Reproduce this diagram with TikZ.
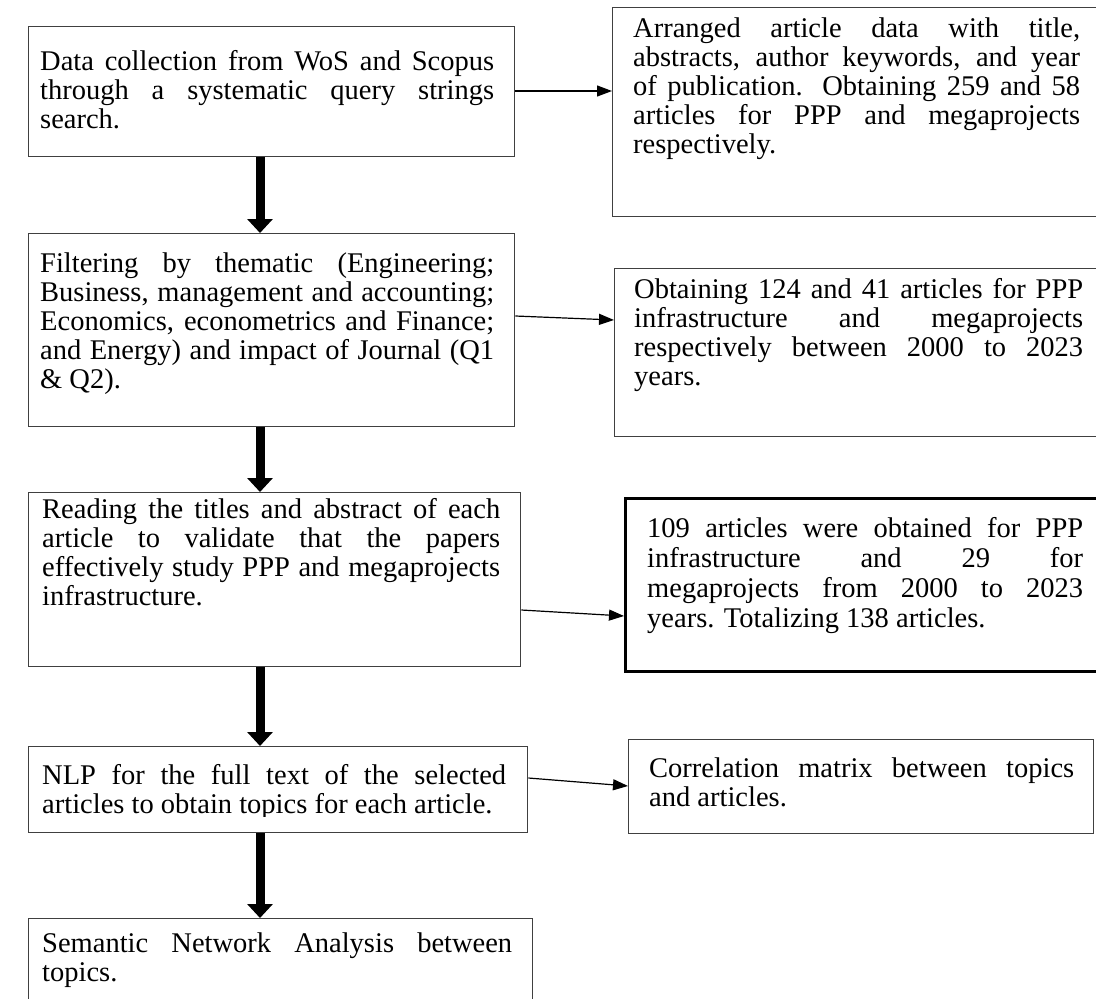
\documentclass[tikz,border=0pt]{standalone}
\usepackage{fontspec}
\setmainfont{Liberation Serif}
\usetikzlibrary{arrows.meta}
\begin{document}
\begin{tikzpicture}[x=1pt,y=-1pt,
  box/.style={draw=black!75, line width=1.3pt, anchor=north west, inner sep=0pt},
  boldbox/.style={box, draw=black, line width=2.8pt},
  txt/.style={anchor=base west, inner sep=0pt, align=justify, font=\fontsize{28.5}{29}\selectfont},
  flow/.style={line width=9pt, -{Triangle[length=14pt,width=25pt]}},
  link/.style={line width=1.2pt, -{Triangle[length=15pt,width=11pt]}}]
\useasboundingbox (0,0) rectangle (1096,999);
\fill[white] (0,0) rectangle (1096,999);
% boxes
\node[box, minimum width=486pt, minimum height=130pt] (b1) at (28,26) {};
\node[box, minimum width=490pt, minimum height=209pt] (b2) at (612,7) {};
\node[box, minimum width=486pt, minimum height=193pt] (b3) at (28,233) {};
\node[box, minimum width=490pt, minimum height=168pt] (b4) at (614,268) {};
\node[box, minimum width=492pt, minimum height=174pt] (b5) at (28,492) {};
\node[boldbox, minimum width=480pt, minimum height=173pt] (b6) at (624,497) {};
\node[box, minimum width=499pt, minimum height=86pt] (b7) at (28,746) {};
\node[box, minimum width=465pt, minimum height=94pt] (b8) at (628,739) {};
\node[box, minimum width=504pt, minimum height=100pt] (b9) at (28,918) {};
% texts
\node[txt, text width=454pt] (t1) at (40,70) {Data collection from WoS and Scopus\linebreak through a systematic query strings\linebreak search.};
\node[txt, text width=447pt] (t2) at (633,37) {Arranged article data with title,\linebreak abstracts, author keywords, and year\linebreak of publication. Obtaining 259 and 58\linebreak articles for PPP and megaprojects\linebreak respectively.};
\node[txt, text width=454pt] (t3) at (40,272) {Filtering by thematic (Engineering;\linebreak Business, management and accounting;\linebreak Economics, econometrics and Finance;\linebreak and Energy) and impact of Journal (Q1\linebreak \& Q2).};
\node[txt, text width=449pt] (t4) at (634,298) {Obtaining 124 and 41 articles for PPP\linebreak infrastructure and megaprojects\linebreak respectively between 2000 to 2023\linebreak years.};
\node[txt, text width=458pt] (t5) at (42,518) {Reading the titles and abstract of each\linebreak article to validate that the papers\linebreak effectively study PPP and megaprojects\linebreak infrastructure.};
\node[txt, text width=436pt, font=\fontsize{28.5}{30}\selectfont] (t6) at (647,537) {109 articles were obtained for PPP\linebreak infrastructure and 29 for\linebreak megaprojects from 2000 to 2023\linebreak years. Totalizing 138 articles.};
\begin{scope}
\clip (0,740) rectangle (600,816);
\node[txt, text width=464pt] (t7) at (42,784) {NLP for the full text of the selected\linebreak articles to obtain topics for each article.};
\end{scope}
\node[txt, text width=425pt] (t8) at (649,777) {Correlation matrix between topics\linebreak and articles.};
\node[txt, text width=470pt] (t9) at (42,952) {Semantic Network Analysis between\linebreak topics.};
% flow arrows
\draw[flow] (b1.south -| 260,0) -- (b3.north -| 260,0);
\draw[flow] (b3.south -| 260,0) -- (b5.north -| 260,0);
\draw[flow] (b5.south -| 260,0) -- (b7.north -| 260,0);
\draw[flow] (b7.south -| 260,0) -- (b9.north -| 260,0);
% side arrows
\draw[link] (b1.east |- 0,91) -- (b2.west |- 0,91);
\draw[link] (b3.east |- 0,316) -- (b4.west |- 0,320);
\draw[link] (b5.east |- 0,610) -- (b6.west |- 0,616);
\draw[link] (b7.east |- 0,778) -- (b8.west |- 0,786);
\end{tikzpicture}
\end{document}
